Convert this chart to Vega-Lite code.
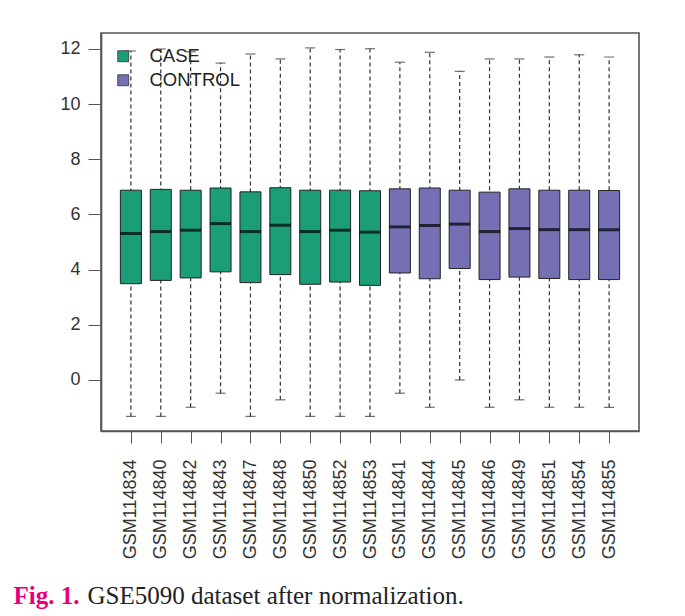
{
  "$schema": "https://vega.github.io/schema/vega-lite/v6.json",
  "width": 538,
  "height": 398,
  "autosize": {"type": "none"},
  "padding": {"left": 101, "top": 33, "right": 46, "bottom": 185},
  "background": "white",
  "config": {
    "view": {"stroke": "#555555", "strokeWidth": 1.6},
    "font": "Liberation Sans"
  },
  "data": {
    "values": [
      {"sample": "GSM114834", "group": "CASE", "lo": -1.32, "q1": 3.49, "med": 5.31, "q3": 6.88, "hi": 11.93},
      {"sample": "GSM114840", "group": "CASE", "lo": -1.32, "q1": 3.61, "med": 5.38, "q3": 6.91, "hi": 12.0},
      {"sample": "GSM114842", "group": "CASE", "lo": -0.99, "q1": 3.70, "med": 5.43, "q3": 6.88, "hi": 11.9},
      {"sample": "GSM114843", "group": "CASE", "lo": -0.48, "q1": 3.92, "med": 5.67, "q3": 6.96, "hi": 11.49},
      {"sample": "GSM114847", "group": "CASE", "lo": -1.32, "q1": 3.53, "med": 5.38, "q3": 6.82, "hi": 11.82},
      {"sample": "GSM114848", "group": "CASE", "lo": -0.72, "q1": 3.82, "med": 5.61, "q3": 6.97, "hi": 11.64},
      {"sample": "GSM114850", "group": "CASE", "lo": -1.32, "q1": 3.47, "med": 5.38, "q3": 6.88, "hi": 12.04},
      {"sample": "GSM114852", "group": "CASE", "lo": -1.32, "q1": 3.55, "med": 5.43, "q3": 6.88, "hi": 11.98},
      {"sample": "GSM114853", "group": "CASE", "lo": -1.32, "q1": 3.43, "med": 5.36, "q3": 6.86, "hi": 12.01},
      {"sample": "GSM114841", "group": "CONTROL", "lo": -0.48, "q1": 3.88, "med": 5.55, "q3": 6.93, "hi": 11.52},
      {"sample": "GSM114844", "group": "CONTROL", "lo": -0.99, "q1": 3.67, "med": 5.60, "q3": 6.96, "hi": 11.88},
      {"sample": "GSM114845", "group": "CONTROL", "lo": 0.0, "q1": 4.04, "med": 5.65, "q3": 6.88, "hi": 11.19},
      {"sample": "GSM114846", "group": "CONTROL", "lo": -0.99, "q1": 3.64, "med": 5.38, "q3": 6.81, "hi": 11.64},
      {"sample": "GSM114849", "group": "CONTROL", "lo": -0.72, "q1": 3.73, "med": 5.49, "q3": 6.93, "hi": 11.64},
      {"sample": "GSM114851", "group": "CONTROL", "lo": -0.99, "q1": 3.68, "med": 5.45, "q3": 6.88, "hi": 11.71},
      {"sample": "GSM114854", "group": "CONTROL", "lo": -0.99, "q1": 3.64, "med": 5.45, "q3": 6.88, "hi": 11.79},
      {"sample": "GSM114855", "group": "CONTROL", "lo": -0.99, "q1": 3.64, "med": 5.45, "q3": 6.87, "hi": 11.71}
    ]
  },
  "encoding": {
    "x": {
      "field": "sample",
      "type": "nominal",
      "sort": null,
      "scale": {"type": "point", "padding": 1.197},
      "axis": {
        "title": "GSE5090 dataset after normalization.",
        "titleFont": "Liberation Serif",
        "titleFontSize": 25,
        "titleFontWeight": "normal",
        "titleColor": "#222222",
        "titleX": -14,
        "titleY": 172,
        "titleAlign": "left",
        "titleBaseline": "alphabetic",
        "labelAngle": -90,
        "labelAlign": "right",
        "labelBaseline": "middle",
        "labelFontSize": 18,
        "labelColor": "#333333",
        "labelPadding": 16,
        "tickSize": 12,
        "tickColor": "#555555",
        "domain": true,
        "domainColor": "#555555",
        "domainWidth": 1.6
      }
    }
  },
  "layer": [
    {
      "mark": {"type": "rule", "strokeDash": [4, 3], "color": "#333333", "strokeWidth": 1.2},
      "encoding": {
        "y": {
          "field": "lo",
          "type": "quantitative",
          "scale": {"domain": [-1.85, 12.58], "nice": false, "zero": false},
          "axis": {
            "values": [0, 2, 4, 6, 8, 10, 12],
            "grid": false,
            "domain": true,
            "domainColor": "#555555",
            "domainWidth": 1.6,
            "tickSize": 13,
            "tickColor": "#555555",
            "labelPadding": 8,
            "labelFontSize": 18,
            "labelColor": "#333333",
            "title": "Fig. 1.",
            "titleFont": "Liberation Serif",
            "titleFontSize": 25,
            "titleFontWeight": "bold",
            "titleColor": "#E6007E",
            "titleAngle": 0,
            "titleX": -88,
            "titleY": 570,
            "titleAlign": "left",
            "titleBaseline": "alphabetic"
          }
        },
        "y2": {"field": "hi"}
      }
    },
    {
      "mark": {"type": "tick", "color": "#333333", "size": 10, "thickness": 1.2},
      "encoding": {"y": {"field": "lo", "type": "quantitative"}}
    },
    {
      "mark": {"type": "tick", "color": "#333333", "size": 10, "thickness": 1.2},
      "encoding": {"y": {"field": "hi", "type": "quantitative"}}
    },
    {
      "mark": {"type": "bar", "size": 21, "stroke": "#222222", "strokeWidth": 1},
      "encoding": {
        "y": {"field": "q1", "type": "quantitative"},
        "y2": {"field": "q3"},
        "fill": {
          "field": "group",
          "type": "nominal",
          "scale": {"domain": ["CASE", "CONTROL"], "range": ["#1B9E77", "#7570B3"]},
          "legend": {
            "title": null,
            "orient": "none",
            "legendX": 13,
            "legendY": 14,
            "symbolType": "square",
            "symbolSize": 121,
            "symbolStrokeColor": "#333333",
            "symbolStrokeWidth": 0.8,
            "symbolOpacity": 1,
            "labelFontSize": 18.5,
            "labelColor": "#222222",
            "labelOffset": 17,
            "rowPadding": 5
          }
        }
      }
    },
    {
      "mark": {"type": "tick", "color": "black", "size": 21, "thickness": 3},
      "encoding": {"y": {"field": "med", "type": "quantitative"}}
    }
  ]
}
